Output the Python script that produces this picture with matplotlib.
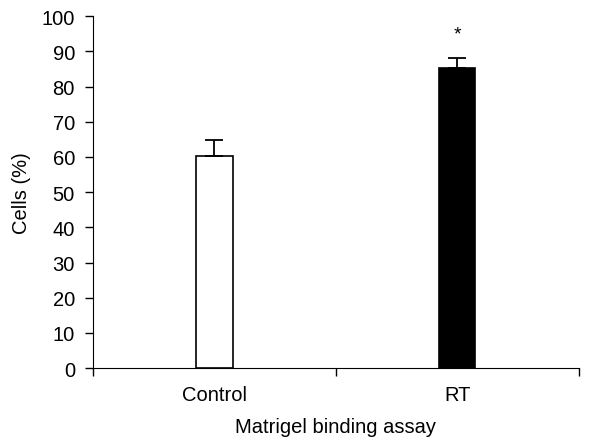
import numpy as np
import matplotlib.pyplot as plt

plt.rcParams['font.family'] = ['Liberation Sans', 'DejaVu Sans']

groups = ['Control', 'RT']
cells = [60.3, 85.3]
err = [4.6, 2.8]
colors = ['white', 'black']

fig = plt.figure(figsize=(5.96, 4.39), dpi=100)
ax = fig.add_axes([0.156, 0.159, 0.815, 0.802])

x = np.arange(len(groups))
ax.bar(x, cells, width=0.15, color=colors, edgecolor='black', linewidth=1.2)
ax.errorbar(x, cells, yerr=[np.zeros(len(err)), err], fmt='none',
            ecolor='black', elinewidth=1.3, capsize=6.5, capthick=1.3)
ax.text(1, 94.8, '*', ha='center', va='center', fontsize=14)

ax.set_xlim(-0.5, 1.5)
ax.set_ylim(0, 100)
ax.set_yticks(range(0, 101, 10))
ax.set_xticks([-0.5, 0.5, 1.5])
ax.set_xticklabels([])
ax.set_xticks(x, minor=True)
ax.set_xticklabels(groups, minor=True)
ax.tick_params(axis='x', which='minor', length=0, pad=12, labelsize=14.5)
ax.tick_params(axis='x', which='major', length=6, width=1)
ax.tick_params(axis='y', length=6, width=1, pad=7, labelsize=14.5)
ax.spines['top'].set_visible(False)
ax.spines['right'].set_visible(False)

ax.set_ylabel('Cells (%)', fontsize=14.5)
ax.set_xlabel('Matrigel binding assay', fontsize=14.5)
ax.yaxis.set_label_coords(-0.148, 0.5)
ax.xaxis.set_label_coords(0.5, -0.165)
ax.yaxis.label.set_va('center')
ax.xaxis.label.set_va('center')

fig.savefig('out.png', dpi=100)
